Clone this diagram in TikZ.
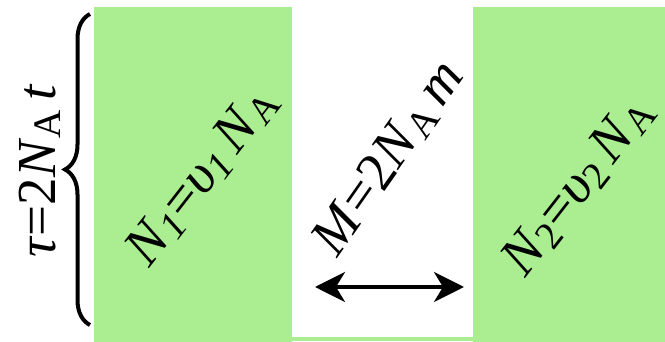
\documentclass[tikz,border=0pt]{standalone}
\usepackage{fontspec}
\setmainfont{Liberation Serif}
\usetikzlibrary{arrows.meta,decorations.pathreplacing}
\definecolor{lgreen}{HTML}{ABEE92}
\newcommand{\lowsub}[1]{\raisebox{-0.1em}{\fontsize{39}{39}\selectfont #1}}
\tikzset{
  lbl/.style={font=\fontsize{55}{55}\selectfont, inner sep=0pt},
  greenbox/.style={fill=lgreen, draw=none},
  dblarrow/.style={line width=4pt, {Stealth[length=30pt,width=30pt,inset=9pt]}-{Stealth[length=30pt,width=30pt,inset=9pt]}},
}
\begin{document}
\begin{tikzpicture}[x=1pt,y=1pt]
\useasboundingbox (0,0) rectangle (665,342);
\fill[white] (0,0) rectangle (665,342);
\fill[lgreen] (283,1) rectangle (480,5);
\fill[greenbox] (94,0) rectangle (292,335);
\fill[greenbox] (473,0) rectangle (665,335);
\node[lbl, rotate=90] (tau) at (40,171) {\textit{τ}=2\textit{N}\lowsub{A}\,\textit{t}};
\coordinate (bb) at (90,17);
\coordinate (bt) at (90,328);
\draw[line width=4pt, decoration={brace, amplitude=25pt}, decorate] (bb) -- (bt);
\node[lbl, rotate=52] (n1) at (202,166) {\textit{N}\lowsub{\textit{1}}=\textit{υ}\lowsub{\textit{1}}\,\textit{N}\lowsub{A}};
\node[lbl, rotate=55] (m) at (389,184) {\textit{M}=2\textit{N}\lowsub{A}\,\textit{m}};
\node[lbl, rotate=52] (n2) at (578,156) {\textit{N}\lowsub{2}=\textit{υ}\lowsub{2}\,\textit{N}\lowsub{A}};
\coordinate (al) at (315,55);
\coordinate (ar) at (464,55);
\draw[dblarrow] (al) -- (ar);
\end{tikzpicture}
\end{document}
